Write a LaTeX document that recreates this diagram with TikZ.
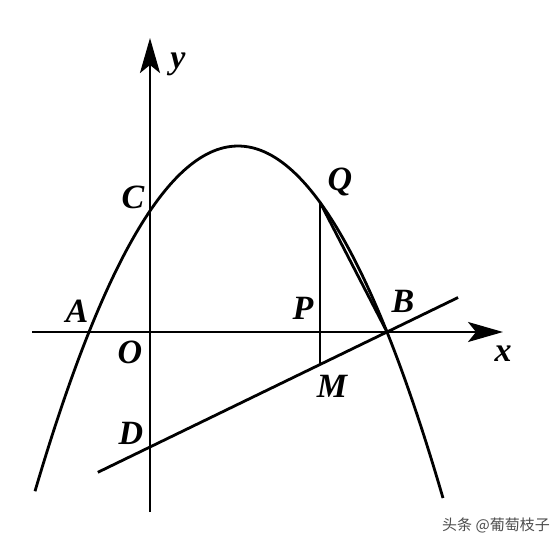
\documentclass[tikz,border=0pt]{standalone}
\usepackage{fontspec}
\setmainfont{Liberation Serif}
\newfontfamily\cjk{Noto Sans CJK SC}
\usetikzlibrary{arrows.meta,calc}
\tikzset{
  curve/.style={line width=2.8pt, line join=round},
  axis/.style={line width=2.6pt, -{Stealth[length=35pt,width=20pt,inset=8pt]}},
  lbl/.style={inner sep=0pt, font=\fontsize{34}{38}\selectfont\bfseries\itshape},
  wm/.style={inner sep=0pt, text=black!70, font=\cjk\fontsize{15}{18}\selectfont}
}
\begin{document}
\begin{tikzpicture}[x=1pt,y=-1pt]
\useasboundingbox (0,0) rectangle (560,545);
\coordinate (O) at (150,332);
\coordinate (A) at (89,332);
\coordinate (B) at (387,332);
\coordinate (C) at (150,211);
\coordinate (D) at (150,447);
\coordinate (Q) at (320,202.3);
\coordinate (P) at (320,332);
\coordinate (M) at (320,364.5);
\coordinate (xs) at (32,332);
\coordinate (xe) at (503,332);
\coordinate (ys) at (150,512);
\coordinate (ye) at (150,38);
\coordinate (L1) at ($(D)!-0.22!(B)$);
\coordinate (L2) at ($(D)!1.30!(B)$);
% axes
\draw[axis] (xs) -- (xe);
\draw[axis] (ys) -- (ye);
% parabola
\draw[curve] plot[domain=35:443, samples=120, smooth] (\x, {332 - 0.00838*(\x-89)*(387-\x)});
% line BD
\draw[curve] (L1) -- (L2);
% segment QM and chord QB
\draw[curve] (Q) -- (M);
\draw[curve] (Q) -- (B);
% labels
\node[lbl] (ly) at (178,64) {y};
\node[lbl] (lx) at (503,354) {x};
\node[lbl] (lA) at (77,311) {A};
\node[lbl] (lO) at (130,352) {O};
\node[lbl] (lC) at (133,197) {C};
\node[lbl] (lD) at (131,433) {D};
\node[lbl] (lQ) at (340,182) {Q};
\node[lbl] (lP) at (303,308) {P};
\node[lbl] (lB) at (403,301) {B};
\node[lbl] (lM) at (332,386) {M};
\node[wm] (w) at (496,525) {头条 @葡萄枝子};
\end{tikzpicture}
\end{document}
